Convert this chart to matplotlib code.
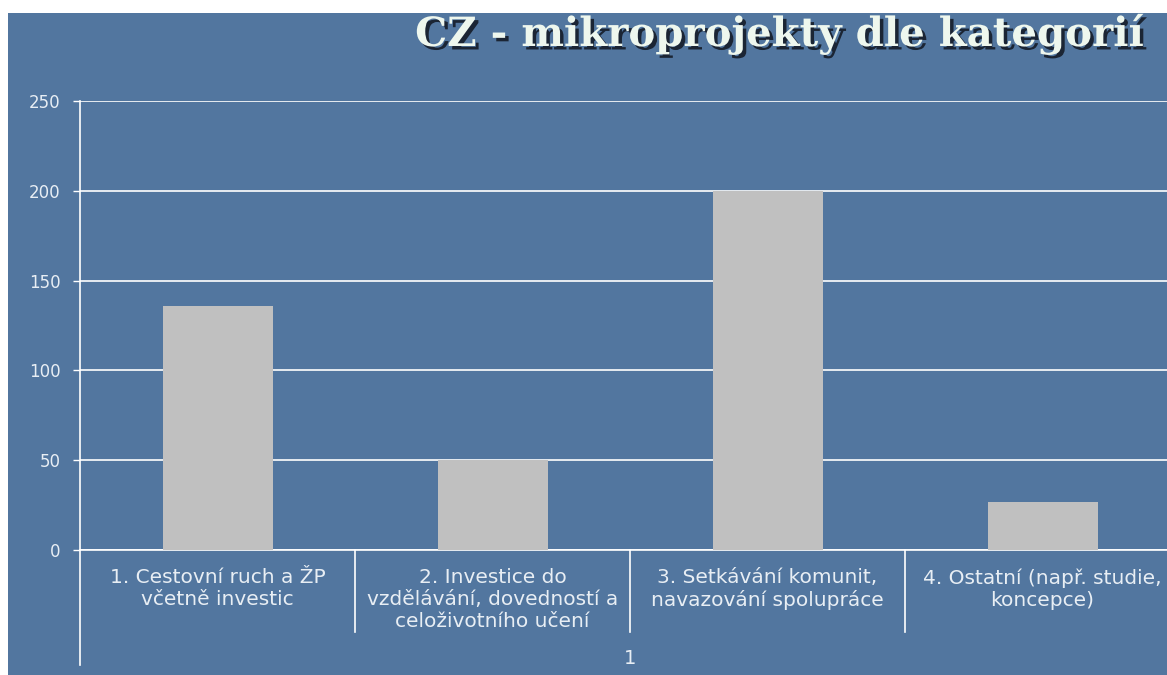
import matplotlib
matplotlib.use("Agg")
import matplotlib.pyplot as plt
import matplotlib.patheffects as pe

# data
categories = [
    "1. Cestovní ruch a ŽP\nvčetně investic",
    "2. Investice do\nvzdělávání, dovedností a\nceloživotního učení",
    "3. Setkávání komunit,\nnavazování spolupráce",
    "4. Ostatní (např. studie,\nkoncepce)",
]
counts = [136, 50, 200, 27]
group_label = "1"
y_ticks = [0, 50, 100, 150, 200, 250]

BG = "#52769f"
TXT = "#e8eef4"

W, H = 1167, 675
fig = plt.figure(figsize=(W / 100, H / 100), dpi=100, facecolor="white")

# slide background (white strip on top and left like the screenshot)
bg = fig.add_axes([8 / W, 0, 1, 1 - 13 / H])
bg.set_facecolor(BG)
bg.set_xticks([])
bg.set_yticks([])
for s in bg.spines.values():
    s.set_visible(False)

# plot area: y axis at x=80, top (250) at y=101, zero at y=550, 275 px per category
left, right, top, bottom = 80, 1180, 101, 550
ax = fig.add_axes([left / W, (H - bottom) / H, (right - left) / W, (bottom - top) / H])
ax.set_facecolor("none")

x = list(range(len(categories)))
ax.bar(x, counts, width=0.4, color="#c0c0c0", zorder=3)

ax.set_xlim(-0.5, len(categories) - 0.5)
ax.set_ylim(0, 250)
ax.set_yticks(y_ticks)
ax.yaxis.grid(True, color="white", linewidth=1.2, zorder=1)
ax.set_axisbelow(True)
ax.tick_params(axis="y", colors="white", labelcolor=TXT, labelsize=12,
               length=5, width=1, pad=9)
ax.set_xticks([])
for name in ["top", "right"]:
    ax.spines[name].set_visible(False)
ax.spines["bottom"].set_color("white")
ax.spines["bottom"].set_linewidth(1.2)
ax.spines["left"].set_color("white")
ax.spines["left"].set_linewidth(1.2)
ax.spines["left"].set_bounds(0, 250)

# multi-level category axis below the plot
tr = ax.get_xaxis_transform()
px = 1 / (bottom - top)
ax.plot([-0.5, -0.5], [0, -(665 - bottom) * px], color="white", lw=1.2,
        transform=tr, clip_on=False)
for i in range(1, len(categories)):
    ax.plot([i - 0.5, i - 0.5], [0, -(632 - bottom) * px], color="white",
            lw=1.2, transform=tr, clip_on=False)
for i, lab in enumerate(categories):
    ax.text(i, -(568 - bottom) * px, lab, transform=tr, ha="center", va="top",
            color=TXT, fontsize=14.5, linespacing=1.2, clip_on=False)
ax.text((len(categories) - 1) / 2, -(658 - bottom) * px, group_label,
        transform=tr, ha="center", va="center", color=TXT, fontsize=14)

# slide title
fig.text(1143 / W, 1 - 46 / H, "CZ - mikroprojekty dle kategorií",
         ha="right", va="baseline", family="DejaVu Serif",
         fontweight="bold", fontsize=29, color="#eef7ee",
         path_effects=[pe.SimplePatchShadow(offset=(2.5, -2.5),
                                            shadow_rgbFace="#151c28", alpha=0.9),
                       pe.Normal()])

fig.savefig("out.png", dpi=100, facecolor="white")
